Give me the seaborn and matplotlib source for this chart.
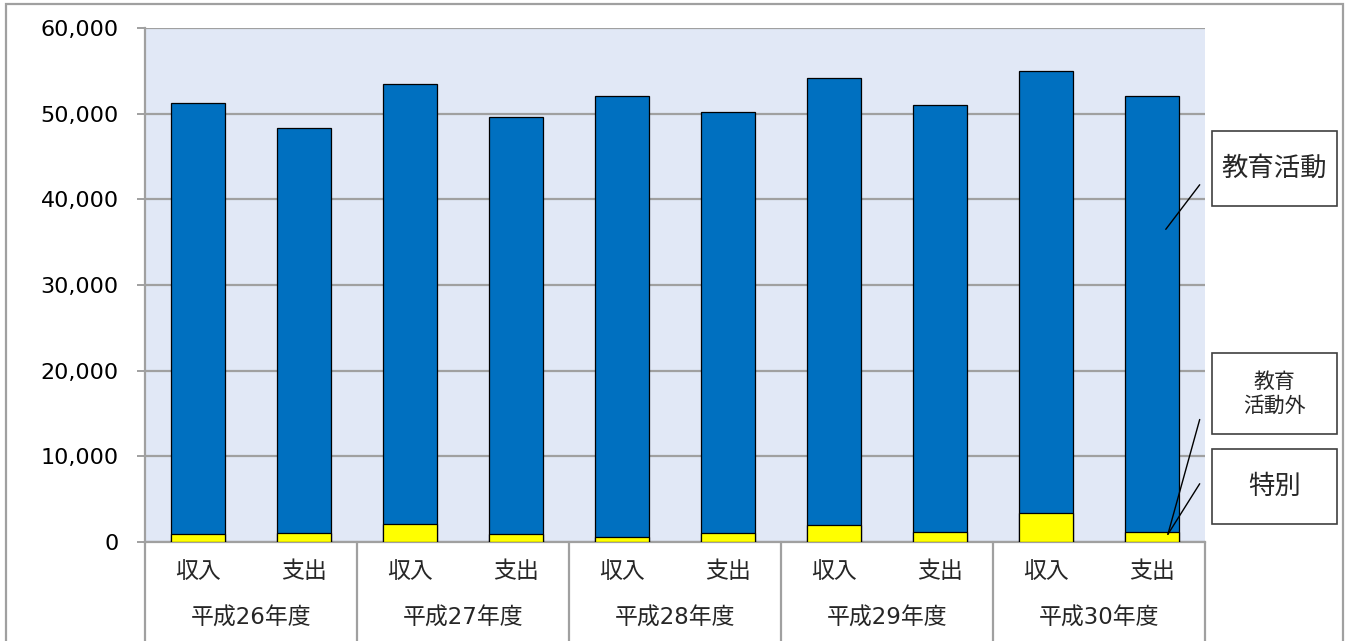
import matplotlib
matplotlib.use("Agg")
import matplotlib.pyplot as plt
import matplotlib.transforms as mtransforms
from matplotlib.lines import Line2D
from matplotlib.patches import Rectangle
from matplotlib.ticker import StrMethodFormatter
import numpy as np
import pandas as pd
import seaborn as sns

# ---------------- data ----------------
years = ["平成26年度", "平成27年度", "平成28年度", "平成29年度", "平成30年度"]
kinds = ["収入", "支出"]
# 教育活動外 + 特別 (yellow, bottom segment)
outside = [950, 1050, 2100, 930, 550, 1050, 2000, 1200, 3350, 1130]
# 教育活動 (blue, top segment)
activity = [50250, 47250, 51350, 48670, 51500, 49150, 52150, 49800, 51600, 50920]
y_ticks = [0, 10000, 20000, 30000, 40000, 50000, 60000]
series_labels = ["教育活動", "教育\n活動外", "特別"]

# ---------------- style ----------------
sns.set_style("white")
plt.rcParams["font.family"] = ["DejaVu Sans", "Noto Sans CJK JP"]

W, H = 1349, 641
fig = plt.figure(figsize=(W / 100, H / 100), dpi=100)

def fx(px):
    return px / W

def fy(py):
    return 1 - py / H

ax_l, ax_r, ax_t, ax_b = 145, 1205, 28, 542
ax = fig.add_axes([fx(ax_l), fy(ax_b), (ax_r - ax_l) / W, (ax_b - ax_t) / H])
ax.set_facecolor("#E1E8F6")

labels = [f"{y}_{k}" for y in years for k in kinds]
df = pd.DataFrame({
    "bar": labels,
    "outside": outside,
    "activity": activity,
})
df["total"] = df["outside"] + df["activity"]

BLUE = "#0070C0"
YELLOW = "#FFFF00"

sns.barplot(data=df, x="bar", y="total", order=labels, color=BLUE,
            saturation=1, width=0.51, edgecolor="black", linewidth=0.9,
            ax=ax, zorder=3)
sns.barplot(data=df, x="bar", y="outside", order=labels, color=YELLOW,
            saturation=1, width=0.51, edgecolor="black", linewidth=0.9,
            ax=ax, zorder=4)

ax.set_xlim(-0.5, len(labels) - 0.5)
ax.set_ylim(y_ticks[0], y_ticks[-1])
ax.set_yticks(y_ticks)
ax.yaxis.set_major_formatter(StrMethodFormatter("{x:,.0f}"))
ax.yaxis.grid(True, color="#A0A0A0", linewidth=1.6)
ax.set_axisbelow(True)
ax.set_xlabel("")
ax.set_ylabel("")

for s in ["top", "right"]:
    ax.spines[s].set_visible(False)
for s in ["left", "bottom"]:
    ax.spines[s].set_color("#A0A0A0")
    ax.spines[s].set_linewidth(1.6)

ax.tick_params(axis="y", which="major", length=6, width=1.4, color="#A0A0A0",
               pad=13, labelsize=16, labelcolor="black", left=True)
ax.set_xticks(range(len(labels)))
ax.set_xticklabels(kinds * len(years), fontsize=16.5)
ax.tick_params(axis="x", length=0, pad=13)

# group labels and separators below the axis
trans = mtransforms.blended_transform_factory(ax.transData, ax.transAxes)
for i, y in enumerate(years):
    ax.text(2 * i + 0.5, -0.148, y, transform=trans, ha="center", va="center",
            fontsize=16.5)
for b in range(len(years) + 1):
    xb = 2 * b - 0.5
    ax.add_line(Line2D([xb, xb], [0, -0.2], transform=trans, color="#A0A0A0",
                       linewidth=1.6, clip_on=False))

# leader lines
ax.add_line(Line2D([9.13, 9.45], [36500, 41700], color="black", linewidth=1.0,
                   zorder=6, clip_on=False))
ax.add_line(Line2D([9.15, 9.45], [900, 14300], color="black", linewidth=1.0,
                   zorder=6, clip_on=False))
ax.add_line(Line2D([9.15, 9.45], [900, 6800], color="black", linewidth=1.0,
                   zorder=6, clip_on=False))

# label boxes
def box(x0, y0, x1, y1, text, size, ls=1.2):
    fig.add_artist(Rectangle((fx(x0), fy(y1)), fx(x1) - fx(x0), fy(y0) - fy(y1),
                             transform=fig.transFigure, facecolor="white",
                             edgecolor="#404040", linewidth=1.2))
    fig.text(fx((x0 + x1) / 2), fy((y0 + y1) / 2), text, ha="center",
             va="center", fontsize=size, linespacing=ls, color="#262626")

box(1212, 131, 1337, 206, series_labels[0], 19)
box(1212, 353, 1337, 434, series_labels[1], 15, ls=1.25)
box(1212, 449, 1337, 524, series_labels[2], 19)

# outer frame
fig.add_artist(Rectangle((fx(6), fy(660)), fx(1343) - fx(6), fy(4) - fy(660),
                         transform=fig.transFigure, facecolor="none",
                         edgecolor="#A0A0A0", linewidth=1.6))

fig.savefig("out.png", dpi=100)
